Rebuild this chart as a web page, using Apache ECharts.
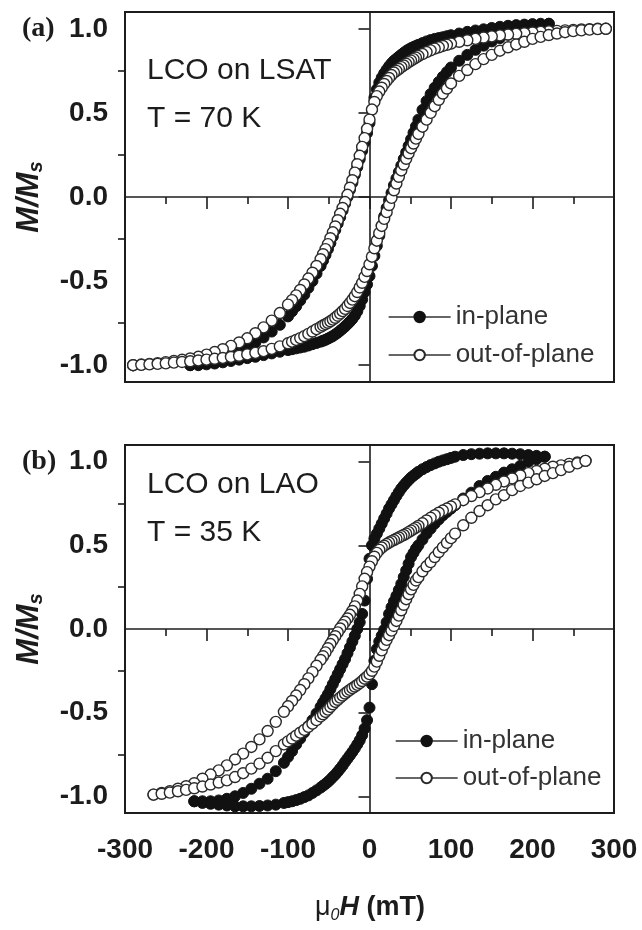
<!DOCTYPE html>
<html>
<head>
<meta charset="utf-8">
<script src="https://cdn.jsdelivr.net/npm/echarts@6/dist/echarts.min.js"></script>
<style>
  html, body { margin: 0; padding: 0; background: #fff; }
  #chart { width: 642px; height: 930px; }
</style>
</head>
<body>
<div id="chart"></div>
<script>
// ---- (a) LCO on LSAT, T = 70 K ----
// out-of-plane loop, field sweep 290 -> -290 mT (finer steps near the switching region)
const fieldOopA = [290, 280, 270, 260, 250, 240, 230, 220, 210, 200, 190, 180, 170, 160, 150, 140, 130, 120, 110, 100,
  95, 90, 85, 80, 75, 70, 65, 60,
  57, 54, 51, 48, 45, 42, 39, 36, 33, 30, 27, 24, 21, 18, 15, 12, 9, 6, 3, 0, -3, -6, -9, -12, -15, -18, -21, -24, -27, -30, -33, -36, -39, -42, -45, -48, -51, -54, -57,
  -60, -65, -70, -75, -80, -85, -90, -95,
  -100, -110, -120, -130, -140, -150, -160, -170, -180, -190, -200, -210, -220, -230, -240, -250, -260, -270, -280, -290];
const mOopA_down = [1.0, 1.0, 0.998, 0.996, 0.994, 0.991, 0.988, 0.985, 0.982, 0.978, 0.974, 0.97, 0.966, 0.961, 0.955, 0.948, 0.94, 0.932, 0.923, 0.912,
  0.905, 0.898, 0.89, 0.882, 0.872, 0.862, 0.85, 0.838,
  0.829, 0.82, 0.811, 0.802, 0.792, 0.782, 0.772, 0.761, 0.75, 0.74, 0.725, 0.708, 0.69, 0.672, 0.65, 0.627, 0.6, 0.565, 0.52, 0.46, 0.405, 0.35, 0.298, 0.245, 0.195, 0.145, 0.10, 0.055, 0.013, -0.03, -0.065, -0.10, -0.138, -0.175, -0.21, -0.245, -0.28, -0.31, -0.34,
  -0.37, -0.41, -0.45, -0.485, -0.52, -0.553, -0.585, -0.613,
  -0.64, -0.69, -0.735, -0.775, -0.81, -0.84, -0.865, -0.885, -0.905, -0.922, -0.937, -0.95, -0.96, -0.968, -0.975, -0.982, -0.988, -0.992, -0.996, -1.0];
// ascending branch (field -290 -> 290 mT)
const mOopA_up = [-1.0, -0.998, -0.995, -0.992, -0.989, -0.985, -0.981, -0.977, -0.972, -0.967, -0.962, -0.957, -0.951, -0.944, -0.936, -0.927, -0.917, -0.903, -0.888, -0.87,
  -0.86, -0.85, -0.839, -0.827, -0.814, -0.80, -0.786, -0.772,
  -0.764, -0.756, -0.748, -0.739, -0.729, -0.718, -0.706, -0.693, -0.679, -0.665, -0.648, -0.63, -0.61, -0.59, -0.565, -0.538, -0.51, -0.475, -0.44, -0.40, -0.355, -0.305, -0.26, -0.215, -0.172, -0.13, -0.09, -0.048, -0.005, 0.04, 0.08, 0.12, 0.158, 0.193, 0.227, 0.26, 0.29, 0.318, 0.347,
  0.375, 0.418, 0.46, 0.50, 0.54, 0.578, 0.615, 0.645,
  0.675, 0.72, 0.755, 0.79, 0.82, 0.845, 0.87, 0.89, 0.907, 0.923, 0.94, 0.952, 0.963, 0.972, 0.98, 0.986, 0.991, 0.995, 0.998, 1.0];

// in-plane loop, field sweep 220 -> -220 mT
const fieldInA = [220, 210, 200, 190, 180, 170, 160, 150, 140, 130, 120, 110, 100,
  95, 90, 85, 80, 75, 70, 65, 60,
  57, 54, 51, 48, 45, 42, 39, 36, 33, 30, 27, 24, 21, 18, 15, 12, 9, 6, 3, 0, -3, -6, -9, -12, -15, -18, -21, -24, -27, -30, -33, -36, -39, -42, -45, -48, -51, -54, -57,
  -60, -65, -70, -75, -80, -85, -90, -95,
  -100, -110, -120, -130, -140, -150, -160, -170, -180, -190, -200, -210, -220];
const mInA_down = [1.03, 1.03, 1.028, 1.025, 1.022, 1.018, 1.012, 1.005, 0.997, 0.99, 0.982, 0.972, 0.962,
  0.956, 0.95, 0.945, 0.94, 0.933, 0.925, 0.915, 0.905,
  0.898, 0.892, 0.885, 0.877, 0.868, 0.857, 0.846, 0.834, 0.822, 0.81, 0.795, 0.777, 0.757, 0.735, 0.71, 0.68, 0.64, 0.59, 0.52, 0.44, 0.38, 0.325, 0.275, 0.225, 0.178, 0.132, 0.085, 0.043, 0.0, -0.04, -0.08, -0.12, -0.158, -0.196, -0.235, -0.274, -0.31, -0.345, -0.378,
  -0.41, -0.455, -0.50, -0.54, -0.58, -0.615, -0.65, -0.68,
  -0.71, -0.76, -0.80, -0.835, -0.865, -0.89, -0.91, -0.93, -0.95, -0.965, -0.98, -0.99, -1.0];
const mInA_up = [-1.0, -1.0, -0.995, -0.99, -0.983, -0.975, -0.967, -0.958, -0.95, -0.94, -0.93, -0.92, -0.91,
  -0.905, -0.90, -0.895, -0.89, -0.883, -0.875, -0.868, -0.86,
  -0.855, -0.849, -0.842, -0.835, -0.827, -0.817, -0.807, -0.795, -0.783, -0.77, -0.756, -0.741, -0.725, -0.705, -0.68, -0.648, -0.61, -0.565, -0.52, -0.47, -0.41, -0.35, -0.29, -0.23, -0.17, -0.115, -0.065, -0.02, 0.025, 0.07, 0.11, 0.148, 0.187, 0.226, 0.265, 0.304, 0.343, 0.382, 0.42,
  0.46, 0.518, 0.57, 0.612, 0.65, 0.684, 0.715, 0.743,
  0.77, 0.81, 0.845, 0.875, 0.90, 0.925, 0.945, 0.965, 0.98, 0.995, 1.01, 1.02, 1.03];

// ---- (b) LCO on LAO, T = 35 K ----
const fieldOopB = [265, 255, 245, 235, 225, 215, 205, 195, 185, 175, 165, 155, 145, 135, 125, 115, 105,
  100, 95, 90, 85, 80, 75, 70, 65, 60,
  57, 54, 51, 48, 45, 42, 39, 36, 33, 30, 27, 24, 21, 18, 15, 12, 9, 6, 3, 0, -3, -6, -9, -12, -15, -18, -21, -24, -27, -30, -33, -36, -39, -42, -45, -48, -51, -54, -57,
  -60, -65, -70, -75, -80, -85, -90, -95, -100,
  -105, -115, -125, -135, -145, -155, -165, -175, -185, -195, -205, -215, -225, -235, -245, -255, -265];
const mOopB_down = [1.005, 0.995, 0.987, 0.978, 0.97, 0.958, 0.945, 0.932, 0.918, 0.90, 0.882, 0.862, 0.84, 0.818, 0.795, 0.77, 0.745,
  0.732, 0.72, 0.708, 0.695, 0.68, 0.665, 0.649, 0.632, 0.616,
  0.606, 0.597, 0.588, 0.579, 0.57, 0.562, 0.555, 0.547, 0.54, 0.532, 0.525, 0.517, 0.508, 0.498, 0.487, 0.473, 0.455, 0.432, 0.405, 0.373, 0.34, 0.30, 0.255, 0.21, 0.17, 0.135, 0.108, 0.085, 0.063, 0.043, 0.023, 0.003, -0.02, -0.043, -0.066, -0.09, -0.115, -0.14, -0.163,
  -0.185, -0.22, -0.258, -0.295, -0.33, -0.365, -0.398, -0.43, -0.462,
  -0.495, -0.555, -0.61, -0.66, -0.705, -0.745, -0.78, -0.815, -0.845, -0.87, -0.895, -0.922, -0.94, -0.955, -0.97, -0.98, -0.99];
const mOopB_up = [-0.99, -0.985, -0.978, -0.97, -0.962, -0.952, -0.942, -0.93, -0.918, -0.905, -0.885, -0.862, -0.835, -0.805, -0.77, -0.73, -0.69,
  -0.672, -0.655, -0.638, -0.62, -0.603, -0.585, -0.566, -0.545, -0.523,
  -0.51, -0.496, -0.482, -0.466, -0.45, -0.436, -0.423, -0.41, -0.398, -0.386, -0.375, -0.364, -0.354, -0.344, -0.334, -0.323, -0.311, -0.297, -0.285, -0.27, -0.25, -0.225, -0.195, -0.16, -0.128, -0.095, -0.065, -0.037, -0.01, 0.018, 0.048, 0.08, 0.112, 0.145, 0.178, 0.208, 0.237, 0.264, 0.29,
  0.31, 0.345, 0.375, 0.40, 0.43, 0.46, 0.488, 0.515, 0.543,
  0.57, 0.62, 0.665, 0.705, 0.74, 0.775, 0.80, 0.83, 0.855, 0.875, 0.895, 0.915, 0.932, 0.95, 0.97, 0.99, 1.005];

const fieldInB = [215, 205, 195, 185, 175, 165, 155, 145, 135, 125, 115, 105,
  100, 95, 90, 85, 80, 75, 70, 65, 60,
  57, 54, 51, 48, 45, 42, 39, 36, 33, 30, 27, 24, 21, 18, 15, 12, 9, 6, 3, 0, -3, -6, -9, -12, -15, -18, -21, -24, -27, -30, -33, -36, -39, -42, -45, -48, -51, -54, -57,
  -60, -65, -70, -75, -80, -85, -90, -95, -100,
  -105, -115, -125, -135, -145, -155, -165, -175, -185, -195, -205, -215];
const mInB_down = [1.03, 1.035, 1.04, 1.045, 1.048, 1.05, 1.05, 1.05, 1.048, 1.045, 1.04, 1.03,
  1.023, 1.015, 1.008, 1.0, 0.99, 0.98, 0.968, 0.955, 0.94,
  0.928, 0.917, 0.905, 0.89, 0.875, 0.858, 0.84, 0.818, 0.795, 0.77, 0.745, 0.72, 0.69, 0.66, 0.63, 0.6, 0.57, 0.54, 0.50, 0.42, 0.30, 0.17, 0.09, 0.04, 0.0, -0.04, -0.075, -0.11, -0.145, -0.18, -0.21, -0.24, -0.27, -0.30, -0.33, -0.36, -0.39, -0.415, -0.44,
  -0.465, -0.505, -0.545, -0.58, -0.618, -0.655, -0.69, -0.73, -0.765,
  -0.80, -0.85, -0.895, -0.925, -0.955, -0.98, -1.0, -1.015, -1.025, -1.03, -1.03, -1.03];
const mInB_up = [-1.03, -1.04, -1.045, -1.05, -1.055, -1.06, -1.06, -1.06, -1.058, -1.055, -1.05, -1.04,
  -1.035, -1.03, -1.023, -1.015, -1.005, -0.995, -0.98, -0.965, -0.948,
  -0.937, -0.926, -0.914, -0.90, -0.885, -0.87, -0.853, -0.835, -0.816, -0.795, -0.775, -0.755, -0.735, -0.713, -0.69, -0.665, -0.635, -0.595, -0.545, -0.47, -0.33, -0.19, -0.12, -0.075, -0.04, -0.005, 0.04, 0.09, 0.13, 0.165, 0.198, 0.233, 0.27, 0.31, 0.35, 0.39, 0.43, 0.455, 0.48,
  0.50, 0.535, 0.57, 0.60, 0.63, 0.655, 0.68, 0.70, 0.72,
  0.74, 0.78, 0.815, 0.855, 0.885, 0.91, 0.935, 0.955, 0.975, 1.0, 1.015, 1.03];

// axis ticks
const X_MIN = -300, X_MAX = 300, X_STEP = 100;
const Y_MAJOR = [-1.0, -0.5, 0.0, 0.5, 1.0];
const Y_MINOR = [-0.75, -0.25, 0.25, 0.75];

const SERIES_NAMES = ['in-plane', 'out-of-plane'];

// ---------------------------------------------------------------
const INK = '#1c1c1c';
const SANS = '"Liberation Sans", Arial, sans-serif';

function pairs(fields, values) {
  if (fields.length !== values.length) {
    throw new Error('length mismatch: ' + fields.length + ' vs ' + values.length);
  }
  return fields.map((h, i) => [h, values[i]]);
}
function reversed(arr) { return arr.slice().reverse(); }

const filledStyle = { color: '#111', borderColor: '#111', borderWidth: 1 };
const openStyle = { color: '#fff', borderColor: '#2a2a2a', borderWidth: 1.4 };

function loopSeries(grid, name, style, data, withZeroLines) {
  const s = {
    type: 'line', name: name,
    xAxisIndex: grid, yAxisIndex: grid * 2,
    data: data,
    symbol: 'circle', symbolSize: 11, showAllSymbol: true,
    lineStyle: { width: 0, opacity: 0 },
    itemStyle: style,
    emphasis: { disabled: true },
    silent: true, animation: false
  };
  if (withZeroLines) {
    s.markLine = {
      silent: true, z: 1, animation: false,
      symbol: ['none', 'none'],
      label: { show: false },
      lineStyle: { color: INK, width: 1.6, type: 'solid' },
      emphasis: { disabled: true },
      data: [{ xAxis: 0 }, { yAxis: 0 }]
    };
  }
  return s;
}

const grids = [
  { left: 125, top: 12, width: 489, height: 370 },
  { left: 125, top: 445, width: 489, height: 368 }
].map(g => Object.assign({ show: true, borderColor: INK, borderWidth: 2, backgroundColor: 'transparent' }, g));

function xAxis(grid, showLabels) {
  return {
    type: 'value', gridIndex: grid, min: X_MIN, max: X_MAX, interval: X_STEP,
    position: 'bottom',
    axisLine: { show: false },
    splitLine: { show: false },
    axisTick: { show: true, length: 12, lineStyle: { color: INK, width: 1.6 } },
    minorTick: { show: true, splitNumber: 2, length: 7, lineStyle: { color: INK, width: 1.6 } },
    axisLabel: {
      show: showLabels, margin: 23, fontSize: 28, fontWeight: 'bold',
      fontFamily: SANS, color: INK, formatter: v => String(v)
    }
  };
}
function yAxes(grid) {
  return [
    {
      type: 'value', gridIndex: grid, min: -1.1, max: 1.1, position: 'left',
      axisLine: { show: false }, splitLine: { show: false },
      axisTick: { show: true, length: 11, customValues: Y_MAJOR, lineStyle: { color: INK, width: 1.6 } },
      axisLabel: {
        customValues: Y_MAJOR, margin: 17, fontSize: 28, fontWeight: 'bold',
        fontFamily: SANS, color: INK, formatter: v => v.toFixed(1)
      }
    },
    {
      type: 'value', gridIndex: grid, min: -1.1, max: 1.1, position: 'left',
      axisLine: { show: false }, splitLine: { show: false },
      axisTick: { show: true, length: 7, customValues: Y_MINOR, lineStyle: { color: INK, width: 1.6 } },
      axisLabel: { show: false }
    }
  ];
}

function legend(left, top, gap) {
  return {
    orient: 'vertical', left: left, top: top,
    data: SERIES_NAMES,
    itemWidth: 62, itemHeight: 13, itemGap: gap,
    selectedMode: false,
    lineStyle: { color: '#333', width: 1.3, opacity: 1 },
    textStyle: { fontSize: 26, fontFamily: SANS, color: '#333', lineHeight: 28 }
  };
}

const series = [
  // panel (a)
  loopSeries(0, SERIES_NAMES[0], filledStyle, pairs(fieldInA, mInA_down), true),
  loopSeries(0, SERIES_NAMES[0], filledStyle, pairs(reversed(fieldInA), mInA_up), false),
  loopSeries(0, SERIES_NAMES[1], openStyle, pairs(fieldOopA, mOopA_down), false),
  loopSeries(0, SERIES_NAMES[1], openStyle, pairs(reversed(fieldOopA), mOopA_up), false),
  // panel (b)
  loopSeries(1, SERIES_NAMES[0], filledStyle, pairs(fieldInB, mInB_down), true),
  loopSeries(1, SERIES_NAMES[0], filledStyle, pairs(reversed(fieldInB), mInB_up), false),
  loopSeries(1, SERIES_NAMES[1], openStyle, pairs(fieldOopB, mOopB_down), false),
  loopSeries(1, SERIES_NAMES[1], openStyle, pairs(reversed(fieldOopB), mOopB_up), false)
];

function plainText(x, y, text, font, extra) {
  return {
    type: 'text', x: x, y: y, silent: true,
    style: Object.assign({ text: text, font: font, fill: INK, verticalAlign: 'middle' }, extra || {})
  };
}
function yName(y) {
  return {
    type: 'text', x: 29, y: y, rotation: Math.PI / 2, silent: true,
    style: {
      text: '{m|M/M}{s|s}', align: 'center', verticalAlign: 'middle',
      rich: {
        m: { fontSize: 31, fontWeight: 'bold', fontStyle: 'italic', fontFamily: SANS, fill: INK, lineHeight: 34 },
        s: { fontSize: 20, fontWeight: 'bold', fontStyle: 'italic', fontFamily: SANS, fill: INK, lineHeight: 22, verticalAlign: 'bottom' }
      }
    }
  };
}

const graphic = [
  plainText(22, 29, '(a)', 'bold 28px "Liberation Serif", serif'),
  plainText(22, 462, '(b)', 'bold 28px "Liberation Serif", serif'),
  plainText(147, 71, 'LCO on LSAT', '30px ' + SANS),
  plainText(147, 119, 'T = 70 K', '30px ' + SANS),
  plainText(147, 485, 'LCO on LAO', '30px ' + SANS),
  plainText(147, 533, 'T = 35 K', '30px ' + SANS),
  yName(197),
  yName(629),
  {
    type: 'text', x: 370, y: 908, silent: true,
    style: {
      text: '{a|μ}{b|0}{c|H}{d| (mT)}', align: 'center', verticalAlign: 'middle',
      rich: {
        a: { fontSize: 27, fontFamily: SANS, fill: INK, lineHeight: 32 },
        b: { fontSize: 16, fontStyle: 'italic', fontFamily: SANS, fill: INK, lineHeight: 18, verticalAlign: 'bottom' },
        c: { fontSize: 27, fontWeight: 'bold', fontStyle: 'italic', fontFamily: SANS, fill: INK, lineHeight: 32 },
        d: { fontSize: 27, fontWeight: 'bold', fontFamily: SANS, fill: INK, lineHeight: 32 }
      }
    }
  }
];

const chart = echarts.init(document.getElementById('chart'), null, { renderer: 'canvas' });
chart.setOption({
  backgroundColor: '#fff',
  animation: false,
  grid: grids,
  xAxis: [xAxis(0, false), xAxis(1, true)],
  yAxis: yAxes(0).concat(yAxes(1)),
  legend: [legend(383, 298, 10), legend(390, 722, 9)],
  series: series,
  graphic: graphic
});
</script>
</body>
</html>
